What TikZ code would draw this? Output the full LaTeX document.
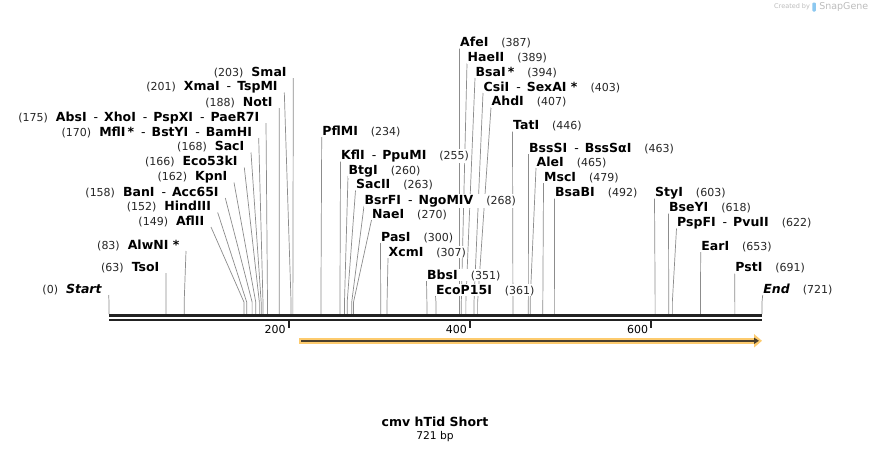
\documentclass[tikz,border=0pt]{standalone}
\usepackage{fontspec}
\setmainfont{DejaVu Sans}
\usetikzlibrary{arrows.meta,positioning,calc}
\definecolor{cutgray}{HTML}{8C8C8C}
\definecolor{bbdark}{HTML}{222222}
\definecolor{featorange}{HTML}{FDCB6E}
\definecolor{featcore}{HTML}{4A3F2C}
\definecolor{creditgray}{HTML}{BDBDBD}
\definecolor{snapblue}{HTML}{8CC8F0}
\pgfdeclarelayer{paper}
\pgfdeclarelayer{lines}
\pgfsetlayers{paper,lines,main}
\newcommand{\bpx}[1]{109+0.9057*#1}
\newcommand{\bpnum}[1]{{\fontsize{11}{12}\selectfont\color{black!85}(#1)}}
\newcommand{\enzname}[1]{\textbf{#1}}
\newcommand{\dsep}{\hspace{7pt}-\hspace{6pt}}
\tikzset{
  labL/.style={anchor=base east, fill=white, inner xsep=0.5pt, inner ysep=1pt, font=\fontsize{12.5}{14}\selectfont},
  labR/.style={anchor=base west, fill=white, inner xsep=0.5pt, inner ysep=1pt, font=\fontsize{12.5}{14}\selectfont},
  cut/.style={draw=cutgray, line width=0.7pt},
  backbone/.style={draw=bbdark, line width=2.5pt},
  tick/.style={draw=bbdark, line width=2pt},
  tickl/.style={anchor=base east, inner sep=0pt, font=\fontsize{11}{12}\selectfont},
  feat/.style={draw=featorange, line width=6pt, -{Triangle[length=8pt, width=13pt]}},
  featline/.style={draw=featcore, line width=2pt, -{Triangle[length=5pt, width=6pt]}},
  title/.style={inner sep=0pt, font=\bfseries\fontsize{12.5}{14}\selectfont},
  credit/.style={inner sep=0pt, text=creditgray},
}
\begin{document}
\begin{tikzpicture}[x=1pt, y=-1pt]
\begin{pgfonlayer}{paper}
\fill[white] (0,0) rectangle (872,453);
\end{pgfonlayer}
\useasboundingbox (0,0) rectangle (872,453);
\coordinate (knee) at (0,302);
% sites labelled on the left
\foreach \p/\lx/\ly/\nm/\txt in {
  203/287.3/76/SmaI/{\enzname{SmaI}},
  201/278.3/90.5/XmaI/{\enzname{XmaI}\dsep\enzname{TspMI}},
  188/273.3/106/NotI/{\enzname{NotI}},
  175/260/121/AbsI/{\enzname{AbsI}\dsep\enzname{XhoI}\dsep\enzname{PspXI}\dsep\enzname{PaeR7I}},
  170/252.7/136/MflI/{\enzname{MflI\,*}\dsep\enzname{BstYI}\dsep\enzname{BamHI}},
  168/245/150.5/SacI/{\enzname{SacI}},
  166/238.3/165.5/Eco53kI/{\enzname{Eco53kI}},
  162/228/180.5/KpnI/{\enzname{KpnI}},
  158/219.3/196/BanI/{\enzname{BanI}\dsep\enzname{Acc65I}},
  152/211.7/210.5/HindIII/{\enzname{HindIII}},
  149/205/225/AflII/{\enzname{AflII}},
  83/180/249/AlwNI/{\enzname{AlwNI *}},
  63/160/271/TsoI/{\enzname{TsoI}},
  0/102.7/293/Start/{\enzname{\itshape Start}}}{
  \coordinate (s\nm) at ({\bpx{\p}},314);
  \node[labL] (\nm) at (\lx,\ly) {\bpnum{\p}\hspace{8pt}\txt};
  \begin{pgfonlayer}{lines}
  \draw[cut] ([shift={(6,2)}]\nm.base east) -- (s\nm |- knee) -- (s\nm);
  \end{pgfonlayer}
}
% sites labelled on the right
\foreach \p/\lx/\ly/\nm/\txt in {
  234/321.7/135/PflMI/{\enzname{PflMI}},
  255/340.5/159.5/KflI/{\enzname{KflI}\dsep\enzname{PpuMI}},
  260/348/174/BtgI/{\enzname{BtgI}},
  263/355.5/188.5/SacII/{\enzname{SacII}},
  268/364/204/BsrFI/{\enzname{BsrFI}\dsep\enzname{NgoMIV}},
  270/371.5/218/NaeI/{\enzname{NaeI}},
  300/380.5/241/PasI/{\enzname{PasI}},
  307/388/256/XcmI/{\enzname{XcmI}},
  351/426.5/279/BbsI/{\enzname{BbsI}},
  361/435.5/294/EcoP15I/{\enzname{EcoP15I}},
  387/459.5/46.5/AfeI/{\enzname{AfeI}},
  389/467/61.5/HaeII/{\enzname{HaeII}},
  394/475/76/BsaI/{\enzname{BsaI\,*}},
  403/483/91/CsiI/{\enzname{CsiI}\dsep\enzname{SexAI *}},
  407/491/105.5/AhdI/{\enzname{AhdI}},
  446/512.5/129.5/TatI/{\enzname{TatI}},
  463/528.5/152/BssSI/{\enzname{BssSI}\dsep\enzname{BssSαI}},
  465/536/166/AleI/{\enzname{AleI}},
  479/543.5/181/MscI/{\enzname{MscI}},
  492/554.5/196.5/BsaBI/{\enzname{BsaBI}},
  603/654.5/196.5/StyI/{\enzname{StyI}},
  618/668.5/211.5/BseYI/{\enzname{BseYI}},
  622/676.5/226.5/PspFI/{\enzname{PspFI}\dsep\enzname{PvuII}},
  653/700.7/250/EarI/{\enzname{EarI}},
  691/734.7/271.5/PstI/{\enzname{PstI}},
  721/762.7/293/End/{\enzname{\itshape End}}}{
  \coordinate (s\nm) at ({\bpx{\p}},314);
  \node[labR] (\nm) at (\lx,\ly) {\txt\hspace{13pt}\bpnum{\p}};
  \begin{pgfonlayer}{lines}
  \draw[cut] ([shift={(0,2)}]\nm.base west) -- (s\nm |- knee) -- (s\nm);
  \end{pgfonlayer}
}
% backbone and ruler
\coordinate (bbS) at ({\bpx{0}},315.5);
\coordinate (bbE) at ({\bpx{721}},315.5);
\draw[backbone] (bbS) -- (bbE);
\draw[backbone] ([shift={(0,4.3)}]bbS) -- ([shift={(0,4.3)}]bbE);
\foreach \t in {200,400,600}{
  \coordinate (t\t) at ({\bpx{\t}-1.2},321);
  \draw[tick] (t\t) -- ++(0,7);
  \node[tickl] (tl\t) at ([shift={(-3,12.5)}]t\t) {\t};
}
% feature
\coordinate (fS) at ({\bpx{210}},340.8);
\coordinate (fE) at ({\bpx{721}},340.8);
\draw[feat] (fS) -- (fE);
\draw[featline] ([shift={(2,0)}]fS) -- ([shift={(-3,0)}]fE);
% title
\node[title] (name) at (435,421.7) {cmv hTid Short};
\node[below=4pt of name, inner sep=0pt, font=\fontsize{10.7}{12}\selectfont] (len) {721 bp};
% credit
\node[credit, font=\fontsize{6.5}{8}\selectfont, anchor=west] (cred) at (774,7) {Created by};
\node[right=2pt of cred, fill=snapblue, minimum width=3.5pt, minimum height=9pt, inner sep=0pt, rounded corners=1pt] (logo) {};
\node[credit, right=3pt of logo, font=\fontsize{9.5}{11}\selectfont] (sg) {SnapGene};
\end{tikzpicture}
\end{document}
